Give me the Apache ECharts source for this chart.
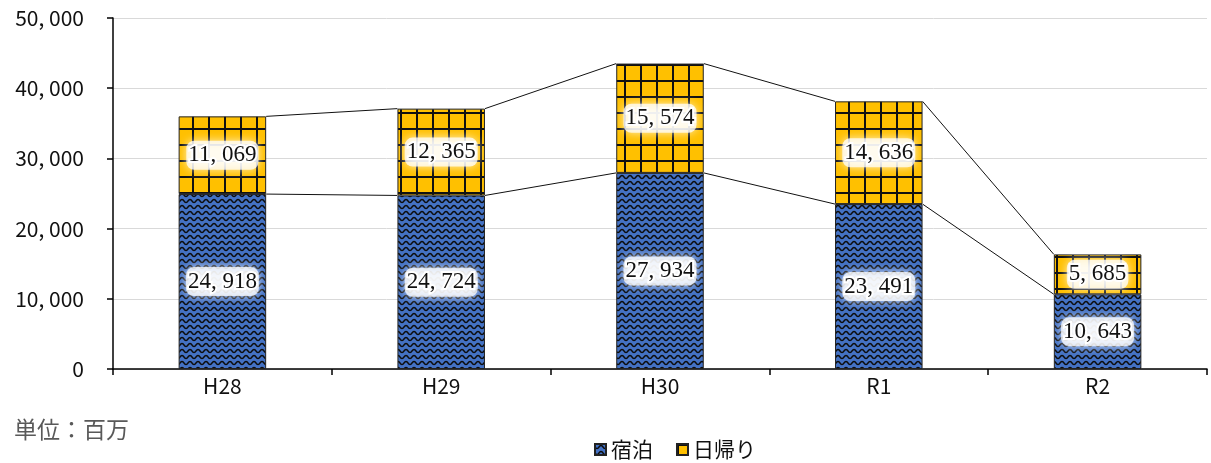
<!DOCTYPE html>
<html><head><meta charset="utf-8">
<script src="https://cdn.jsdelivr.net/npm/echarts@6/dist/echarts.min.js"></script>
<style>html,body{margin:0;padding:0;background:#fff}#c{width:1211px;height:463px}</style>
</head><body><div id="c"></div>
<script>
const categories = ['H28','H29','H30','R1','R2'];
const stayValues = [24918, 24724, 27934, 23491, 10643];
const dayValues = [11069, 12365, 15574, 14636, 5685];
const seriesNames = ['宿泊','日帰り'];

function fmt(v){ const s = String(v); return s.length>3 ? s.slice(0,-3)+', '+s.slice(-3) : s; }

function wavePattern(){
  const c = document.createElement('canvas'); c.width=8; c.height=6;
  const g = c.getContext('2d');
  g.fillStyle='#4472C4'; g.fillRect(0,0,8,6);
  g.strokeStyle='#0d0d0d'; g.lineWidth=1.5;
  g.beginPath();
  for(let x=-1;x<=9;x+=0.5){ const y=3+1.5*Math.sin(x/8*2*Math.PI); if(x===-1) g.moveTo(x,y); else g.lineTo(x,y); }
  g.stroke();
  return c;
}
function gridPattern(){
  const c = document.createElement('canvas'); c.width=16; c.height=16;
  const g = c.getContext('2d');
  g.fillStyle='#FFC000'; g.fillRect(0,0,16,16);
  g.fillStyle='#111'; g.fillRect(0,0,2,16); g.fillRect(0,0,16,2);
  return c;
}
const wave = {image: wavePattern(), repeat:'repeat'};
const grid = {image: gridPattern(), repeat:'repeat'};

const labelStyle = {
  show:true, position:'inside', color:'#111',
  fontFamily:'Liberation Serif', fontSize:23,
  textBorderColor:'#fff', textBorderWidth:4,
  backgroundColor:'rgba(255,255,255,0.75)', padding:[3,2], borderRadius:8,
  shadowColor:'rgba(255,255,255,1)', shadowBlur:10,
  formatter: p => fmt(p.value)
};

const chart = echarts.init(document.getElementById('c'));
chart.setOption({
  animation:false,
  grid:{left:113, top:18, right:4, bottom:94},
  xAxis:{type:'category', data:categories,
    axisLine:{lineStyle:{color:'#000', width:1.5}},
    axisTick:{show:true, length:6, lineStyle:{color:'#000', width:1.5}},
    axisLabel:{color:'#111', fontSize:21, fontFamily:'Noto Sans CJK JP', margin:7}},
  yAxis:{type:'value', min:0, max:50000, interval:10000,
    axisLine:{show:true, lineStyle:{color:'#000', width:1.5}},
    axisTick:{show:true, length:6, lineStyle:{color:'#000', width:1.5}},
    splitLine:{lineStyle:{color:'#d9d9d9', width:1}},
    axisLabel:{color:'#111', fontSize:21, fontFamily:'Noto Sans CJK JP', margin:29,
      formatter: v => fmt(v)}},
  legend:{left:589, top:434, itemWidth:11, itemHeight:11, itemGap:23, icon:'rect',
    textStyle:{fontSize:21, fontFamily:'Noto Sans CJK JP', color:'#111'},
    data:seriesNames},
  graphic:[{type:'text', left:14, top:418,
    style:{text:'単位：百万', fontSize:23, fontFamily:'Noto Sans CJK JP', fill:'#595959'}}],
  series:[
    {name:seriesNames[0], type:'bar', stack:'t', barWidth:'40%', data:stayValues,
      itemStyle:{color:wave, borderColor:'#222', borderWidth:1}, label:labelStyle},
    {name:seriesNames[1], type:'bar', stack:'t', barWidth:'40%', data:dayValues,
      itemStyle:{color:grid, borderColor:'#222', borderWidth:1}, label:labelStyle},
    {type:'custom', silent:true, z:1,
      data: categories.slice(0,-1).map((c,i)=>[i]),
      encode:{x:0},
      renderItem:(params, api)=>{
        const i = api.value(0);
        const half = api.size([1,0])[0]*0.4/2;
        const lvl = [
          [stayValues[i], stayValues[i+1]],
          [stayValues[i]+dayValues[i], stayValues[i+1]+dayValues[i+1]]
        ];
        return {type:'group', children: lvl.map(([a,b])=>{
          const p1 = api.coord([i, a]); const p2 = api.coord([i+1, b]);
          return {type:'line', shape:{x1:p1[0]+half, y1:p1[1], x2:p2[0]-half, y2:p2[1]},
            style:{stroke:'#111', lineWidth:1}};
        })};
      }}
  ]
});
</script></body></html>
